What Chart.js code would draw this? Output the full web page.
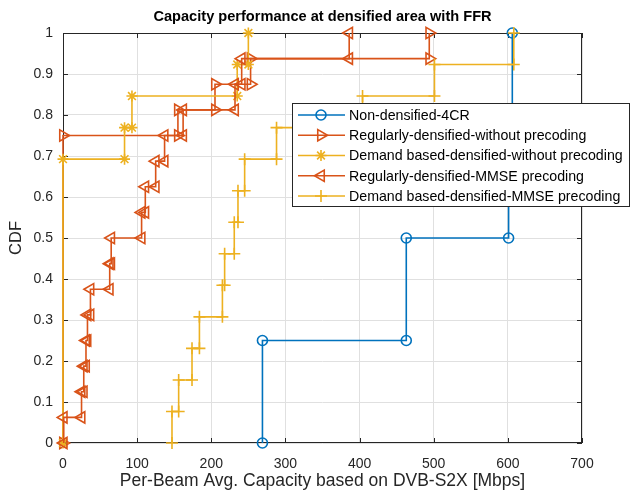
<!DOCTYPE html>
<html>
<head>
<meta charset="utf-8">
<script src="https://cdn.jsdelivr.net/npm/chart.js@4.4.0/dist/chart.umd.min.js"></script>
<style>
  html, body { margin: 0; padding: 0; background: #fff; }
</style>
</head>
<body>
<canvas id="cdfChart" width="630" height="493"></canvas>
<script>
// series names, in plot order
const seriesNames = [
    'Non-densified-4CR',
    'Regularly-densified-without precoding',
    'Demand based-densified-without precoding',
    'Regularly-densified-MMSE precoding',
    'Demand based-densified-MMSE precoding'
];

// capacity [Mbps] where each CDF steps up, and the CDF level after the step
const nonDensCap = [269, 463, 601, 606];
const nonDensCdf = [0.25, 0.5, 0.75, 1];

const regNoPrecCap = [0, 155, 205, 253, 494];
const regNoPrecCdf = [0.75, 0.8125, 0.875, 0.9375, 1];

const demNoPrecCap = [0, 83, 93, 235, 250];
const demNoPrecCdf = [0.6923, 0.7692, 0.8462, 0.9231, 1];

const regMmseCap = [1, 25, 28, 31, 33, 37, 63, 65, 106, 111, 125, 137, 162, 232, 241, 386];
const regMmseCdf = [0.0625, 0.125, 0.1875, 0.25, 0.3125, 0.375, 0.4375, 0.5,
                    0.5625, 0.625, 0.6875, 0.75, 0.8125, 0.875, 0.9375, 1];

const demMmseCap = [147, 156, 174, 184, 215, 218, 231, 236, 245, 288, 404, 501, 608];
const demMmseCdf = [0.0769, 0.1538, 0.2308, 0.3077, 0.3846, 0.4615, 0.5385,
                    0.6154, 0.6923, 0.7692, 0.8462, 0.9231, 1];

const capTicks = [0, 100, 200, 300, 400, 500, 600, 700];
const cdfTicks = [0, 0.1, 0.2, 0.3, 0.4, 0.5, 0.6, 0.7, 0.8, 0.9, 1];

const blue = '#0072BD';
const orange = '#D95319';
const yellow = '#EDB120';
const axisColor = '#262626';
const fontFamily = '"Liberation Sans", Arial, Helvetica, sans-serif';

// turn step points into staircase vertices (marker on both corners)
function StairPoints(caps, cdf) {
    var pts = [];
    var prev = 0;
    for (var i = 0; i < caps.length; i++) {
        pts.push({x: caps[i], y: prev});
        pts.push({x: caps[i], y: cdf[i]});
        prev = cdf[i];
    }
    return pts;
}

function MakeSet(idx, caps, cdf, color, style, rotation, radius) {
    return {
        label: seriesNames[idx],
        data: StairPoints(caps, cdf),
        showLine: true,
        borderColor: color,
        backgroundColor: 'rgba(0,0,0,0)',
        borderWidth: 1.6,
        pointStyle: style,
        rotation: rotation,
        pointRadius: radius,
        pointBorderColor: color,
        pointBackgroundColor: 'rgba(0,0,0,0)',
        pointBorderWidth: 1.6,
        order: 5 - idx,
        clip: 12
    };
}

const datasets = [
    MakeSet(0, nonDensCap, nonDensCdf, blue, 'circle', 0, 5),
    MakeSet(1, regNoPrecCap, regNoPrecCdf, orange, 'triangle', 90, 6.5),
    MakeSet(2, demNoPrecCap, demNoPrecCdf, yellow, 'star', 0, 5.5),
    MakeSet(3, regMmseCap, regMmseCdf, orange, 'triangle', -90, 6.5),
    MakeSet(4, demMmseCap, demMmseCdf, yellow, 'cross', 0, 6)
];

function DrawMarker(ctx, ds, x, y) {
    var opts = {pointStyle: ds.pointStyle, rotation: ds.rotation, radius: ds.pointRadius, borderWidth: ds.pointBorderWidth};
    if (Chart.helpers && Chart.helpers.drawPoint) {
        Chart.helpers.drawPoint(ctx, opts, x, y);
    } else {
        ctx.beginPath();
        ctx.arc(x, y, ds.pointRadius, 0, Math.PI * 2);
        ctx.stroke();
    }
}

const framePlugin = {
    id: 'matlabFrame',
    beforeDatasetsDraw(chart) {
        var ctx = chart.ctx;
        var a = chart.chartArea;
        ctx.save();
        ctx.strokeStyle = axisColor;
        ctx.lineWidth = 1;
        ctx.strokeRect(a.left + 0.5, a.top + 0.5, a.right - a.left - 1, a.bottom - a.top - 1);
        ctx.beginPath();
        for (var v of capTicks) {
            var px = Math.round(chart.scales.x.getPixelForValue(v)) + 0.5;
            ctx.moveTo(px, a.bottom); ctx.lineTo(px, a.bottom - 5);
            ctx.moveTo(px, a.top); ctx.lineTo(px, a.top + 5);
        }
        for (var w of cdfTicks) {
            var py = Math.round(chart.scales.y.getPixelForValue(w)) + 0.5;
            ctx.moveTo(a.left, py); ctx.lineTo(a.left + 5, py);
            ctx.moveTo(a.right, py); ctx.lineTo(a.right - 5, py);
        }
        ctx.stroke();
        ctx.restore();
    },
    afterDraw(chart) {
        var ctx = chart.ctx;
        var a = chart.chartArea;
        ctx.save();

        // title
        ctx.fillStyle = '#000';
        ctx.font = 'bold 14.6px ' + fontFamily;
        ctx.textAlign = 'center';
        ctx.textBaseline = 'middle';
        ctx.fillText('Capacity performance at densified area with FFR', (a.left + a.right) / 2, 17);

        // legend box
        var bx = 292, by = 103, bw = 337, bh = 103;
        ctx.fillStyle = '#fff';
        ctx.fillRect(bx, by, bw, bh);
        ctx.strokeStyle = axisColor;
        ctx.lineWidth = 1;
        ctx.strokeRect(bx + 0.5, by + 0.5, bw, bh);

        ctx.font = '14.2px ' + fontFamily;
        ctx.textAlign = 'left';
        for (var i = 0; i < datasets.length; i++) {
            var ds = datasets[i];
            var ry = 115 + i * 20.25;
            ctx.strokeStyle = ds.borderColor;
            ctx.lineWidth = ds.borderWidth;
            ctx.beginPath();
            ctx.moveTo(298, ry);
            ctx.lineTo(345, ry);
            ctx.stroke();
            ctx.fillStyle = 'rgba(0,0,0,0)';
            DrawMarker(ctx, ds, 321, ry);
            ctx.fillStyle = '#000';
            ctx.fillText(ds.label, 349, ry + 1);
        }
        ctx.restore();
    }
};

var ctx = document.getElementById('cdfChart');
var cdfGraph = new Chart(ctx, {
    type: 'scatter',
    data: { datasets: datasets },
    options: {
        responsive: false,
        animation: false,
        layout: { padding: { top: 33, right: 48, bottom: 0, left: 0 } },
        plugins: {
            legend: { display: false },
            title: { display: false },
            tooltip: { enabled: false }
        },
        scales: {
            x: {
                type: 'linear',
                min: 0,
                max: 700,
                afterBuildTicks: function (scale) {
                    scale.ticks = capTicks.map(function (v) { return {value: v}; });
                },
                afterFit: function (scale) { scale.height = 50; },
                grid: { color: '#e0e0e0', drawTicks: false },
                border: { display: false },
                ticks: {
                    color: axisColor,
                    padding: 13,
                    maxRotation: 0,
                    font: { family: fontFamily, size: 14 }
                },
                title: {
                    display: true,
                    text: 'Per-Beam Avg. Capacity based on DVB-S2X [Mbps]',
                    color: axisColor,
                    padding: { top: 0, bottom: 1 },
                    font: { family: fontFamily, size: 17.5 }
                }
            },
            y: {
                type: 'linear',
                min: 0,
                max: 1,
                afterBuildTicks: function (scale) {
                    scale.ticks = cdfTicks.map(function (v) { return {value: v}; });
                },
                afterFit: function (scale) { scale.width = 63; },
                grid: { color: '#e0e0e0', drawTicks: false },
                border: { display: false },
                ticks: {
                    color: axisColor,
                    padding: 10,
                    font: { family: fontFamily, size: 14 },
                    callback: function (value) { return String(value); }
                },
                title: {
                    display: true,
                    text: 'CDF',
                    color: axisColor,
                    padding: { top: 7, bottom: 0 },
                    font: { family: fontFamily, size: 16.5 }
                }
            }
        }
    },
    plugins: [framePlugin]
});
</script>
</body>
</html>
